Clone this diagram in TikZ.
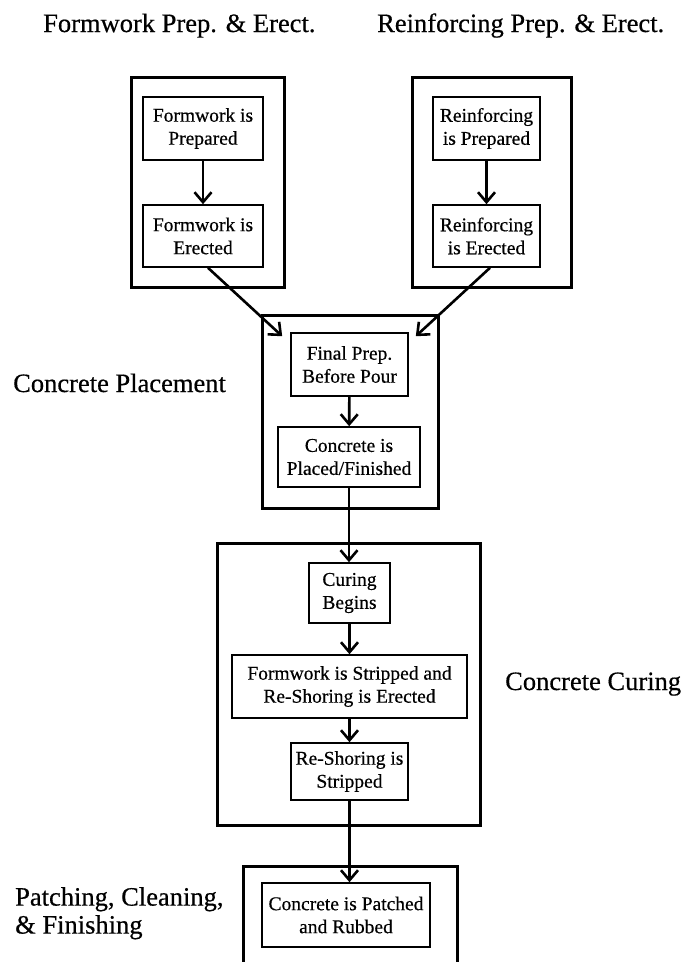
\documentclass[tikz,border=0pt]{standalone}
\usepackage{fontspec}
\setmainfont[FakeBold=0.5]{Liberation Serif}
\usetikzlibrary{arrows.meta,calc}
\begin{document}
\begin{tikzpicture}[x=1pt,y=-1pt,
  inner/.style={draw,line width=1.6pt,inner sep=0pt,align=center,
    font=\fontsize{19.5}{23}\selectfont},
  outer/.style={draw,line width=3pt,inner sep=0pt},
  lbl/.style={inner sep=0pt,font=\fontsize{26.5}{28}\selectfont},
  arr/.style={line width=2.6pt,-{Straight Barb[length=10pt,width=17pt]}}]
\clip (0,0) rectangle (684,962);
\fill[white] (0,0) rectangle (684,962);
% outer group boxes
\node[outer,minimum width=153pt,minimum height=210pt] (gL) at (207.5,182) {};
\node[outer,minimum width=159pt,minimum height=210pt] (gR) at (491.5,182) {};
\node[outer,minimum width=176pt,minimum height=193pt] (gM) at (350,411.5) {};
\node[outer,minimum width=263pt,minimum height=282pt] (gC) at (348.5,684) {};
\node[outer,minimum width=214pt,minimum height=140pt] (gB) at (350,936) {};
% inner boxes
\node[inner,minimum width=120pt,minimum height=63pt] (fp) at (203,128.5) {Formwork is\\Prepared};
\node[inner,minimum width=120pt,minimum height=62pt] (fe) at (203,236) {Formwork is\\Erected};
\node[inner,minimum width=107pt,minimum height=63pt] (rp) at (486.5,128.5) {Reinforcing\\is Prepared};
\node[inner,minimum width=107pt,minimum height=62pt] (re) at (486.5,236) {Reinforcing\\is Erected};
\node[inner,minimum width=117pt,minimum height=63pt] (fin) at (349.5,364.5) {Final Prep.\\Before Pour};
\node[inner,minimum width=142pt,minimum height=60pt] (pl) at (349,457) {Concrete is\\Placed/Finished};
\node[inner,minimum width=81pt,minimum height=60pt] (cb) at (349.5,593) {Curing\\Begins};
\node[inner,minimum width=235pt,minimum height=63pt] (fs) at (349.5,686.5) {Formwork is Stripped and\\Re-Shoring is Erected};
\node[inner,minimum width=117pt,minimum height=57pt] (rs) at (349.5,771.5) {Re-Shoring is\\Stripped};
\node[inner,minimum width=168pt,minimum height=64pt] (pa) at (346,915) {Concrete is Patched\\and Rubbed};
% labels
\node[lbl,anchor=base west] (lf) at (43,32) {Formwork Prep. \& Erect.};
\node[lbl,anchor=base west] (lr) at (377,32) {Reinforcing Prep. \& Erect.};
\node[lbl,anchor=base west] (lcp) at (13,392) {Concrete Placement};
\node[lbl,anchor=base west] (lcc) at (505,690) {Concrete Curing};
\node[lbl,anchor=north west,align=left] (lpf) at (15,887) {Patching, Cleaning,\\\& Finishing};
% connectors
\draw[arr] (fp) -- (fe);
\draw[arr] (rp) -- (re);
\draw[arr] ([xshift=5pt]fe.south) -- ([shift={(-8,4)}]fin.north west);
\draw[arr] ([xshift=3.5pt]re.south) -- ([shift={(7,4)}]fin.north east);
\draw[arr] (fin) -- (pl);
\draw[arr] (pl.south) -- (pl.south |- cb.north);
\draw[arr] (cb) -- (fs);
\draw[arr] (fs) -- (rs);
\draw[arr] (rs.south) -- (rs.south |- pa.north);
\end{tikzpicture}
\end{document}
